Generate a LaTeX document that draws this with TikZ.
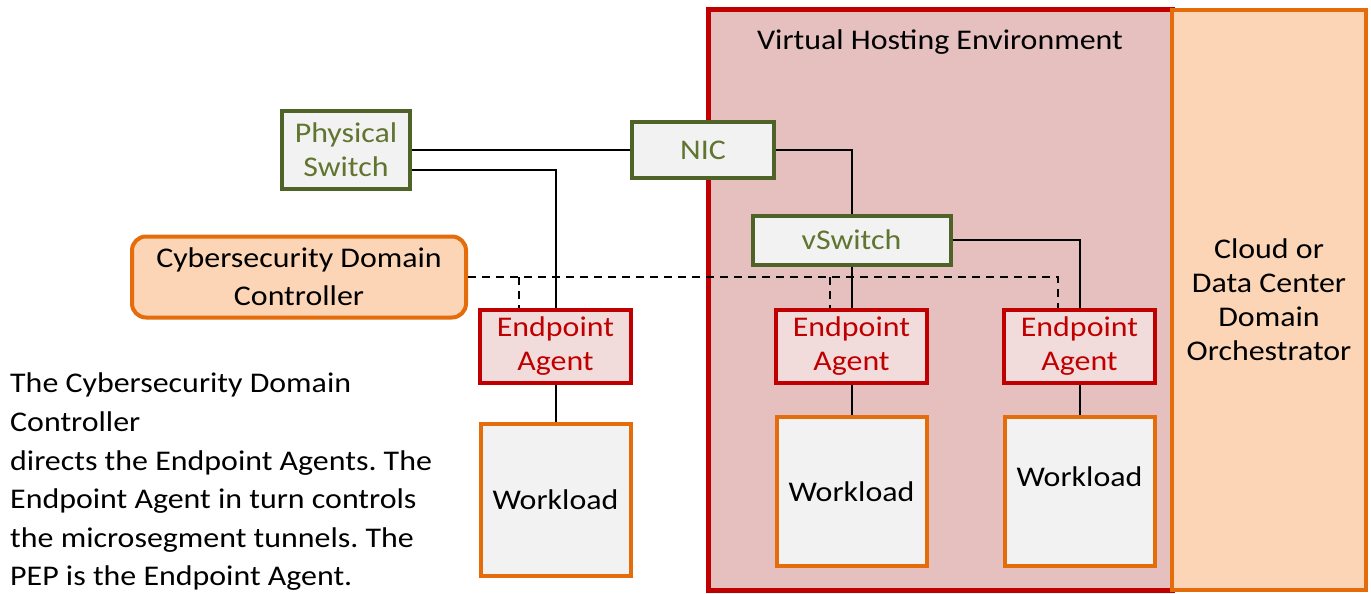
\documentclass[tikz,border=0pt]{standalone}
\usepackage{fontspec}
\setmainfont{Carlito}[FakeStretch=1.12]
\usetikzlibrary{positioning,calc}
\definecolor{olivegrn}{HTML}{4F6228}
\definecolor{olivetxt}{HTML}{5F7530}
\definecolor{agentred}{HTML}{C00000}
\definecolor{agentfill}{HTML}{F2DCDB}
\definecolor{orangeline}{HTML}{E46C0A}
\definecolor{peach}{HTML}{FBD5B5}
\definecolor{hostpink}{HTML}{E6BFBF}
\definecolor{boxgray}{HTML}{F2F2F2}
\frenchspacing

\begin{document}
\begin{tikzpicture}[x=1pt,y=-1pt,
    txt/.style={font=\fontsize{28.5}{34}\selectfont,align=center,inner sep=0pt},
    netbox/.style={txt,draw=olivegrn,fill=boxgray,line width=4pt,text=olivetxt},
    agent/.style={txt,draw=agentred,fill=agentfill,line width=4pt,text=agentred,
                  minimum width=151pt,minimum height=73pt},
    work/.style={txt,draw=orangeline,fill=boxgray,line width=4pt,
                 minimum width=150pt,minimum height=149pt},
    link/.style={line width=2pt},
    ctrl/.style={line width=2pt,dash pattern=on 8pt off 6pt},
  ]
    \useasboundingbox (0,0) rectangle (1371,594);
    % hosting area and orchestrator
    \node[draw=agentred,fill=hostpink,line width=5pt,minimum width=464pt,
          minimum height=580pt,inner sep=0pt](vhe) at (940,300){};
    \node[txt](vhelabel) at (940,42){Virtual Hosting Environment};
    \node[txt,draw=orangeline,fill=peach,line width=4pt,minimum width=194pt,
          minimum height=580pt](orch) at (1269,300)
          {Cloud or\\Data Center\\Domain\\Orchestrator};
    % switching
    \node[netbox,minimum width=128pt,minimum height=78pt](ps) at (346,150){Physical\\Switch};
    \node[netbox,minimum width=142pt,minimum height=56pt](nic) at (703,150){NIC};
    \node[netbox,minimum width=198pt,minimum height=49pt](vsw) at (851.5,240){vSwitch};
    \node[txt,font=\fontsize{28.5}{38}\selectfont,draw=orangeline,fill=peach,
          line width=4pt,rounded corners=14pt,minimum width=334pt,
          minimum height=81pt](cdc) at (299,277){Cybersecurity Domain\\Controller};
    % agents and workloads
    \node[agent](ea1) at (555.5,346.5){Endpoint\\Agent};
    \node[agent](ea2) at (851.5,346.5){Endpoint\\Agent};
    \node[agent](ea3) at (1079.5,346.5){Endpoint\\Agent};
    \node[work,minimum height=152pt](wl1) at (555.5,500){Workload};
    \node[work](wl2) at (851.5,491.5){Workload};
    \node[work](wl3) at (1079.5,491.5){\raisebox{30pt}{Workload}};
    \node[txt,align=left,anchor=north west,font=\fontsize{28.5}{38.6}\selectfont](note)
      at (10,373){The Cybersecurity Domain\\Controller\\directs the Endpoint Agents. The\\
      Endpoint Agent in turn controls\\the microsegment tunnels. The\\PEP is the Endpoint Agent.};
    % links
    \draw[link](ps.east)--(nic.west);
    \draw[link]([yshift=-20pt]ps.east)-|(ea1.north);
    \draw[link](nic.east)-|(vsw.north);
    \draw[link](vsw.south)--(ea2.north);
    \draw[link](vsw.east)-|(ea3.north);
    \draw[link](ea1.south)--(wl1.north);
    \draw[link](ea2.south)--(wl2.north);
    \draw[link](ea3.south)--(wl3.north);
    % control paths
    \coordinate(drop1) at ([xshift=-36.5pt]ea1.north);
    \coordinate(drop2) at ([xshift=-21.5pt]ea2.north);
    \coordinate(drop3) at ([xshift=-21.5pt]ea3.north);
    \draw[ctrl](cdc.east)-|(drop3);
    \draw[ctrl](drop1 |- cdc.east)--(drop1);
    \draw[ctrl](drop2 |- cdc.east)--(drop2);
\end{tikzpicture}
\end{document}
